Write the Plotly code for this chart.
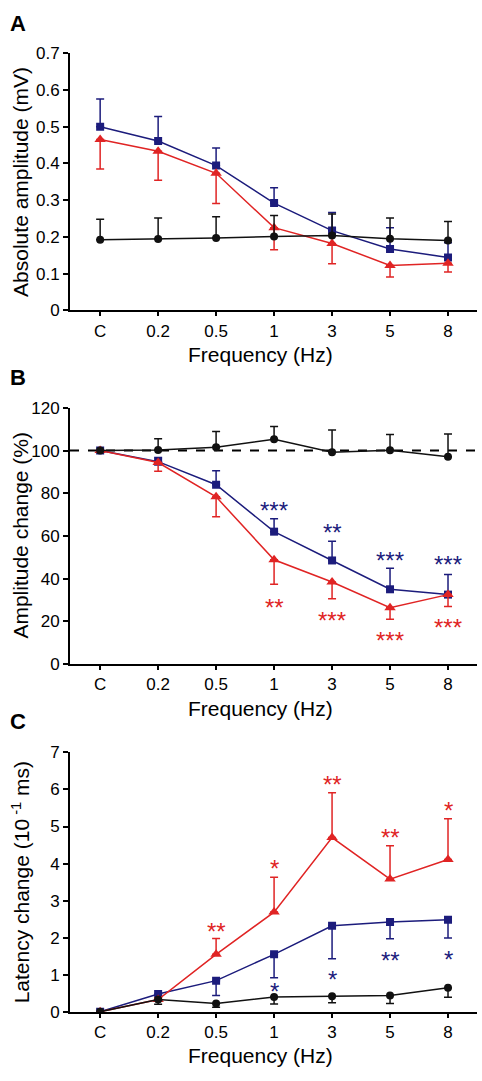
import plotly.graph_objects as go

W, H = 482, 1081
ML, MR = 70, 5
PW = W - ML - MR

freq_labels = ["C", "0.2", "0.5", "1", "3", "5", "8"]
xi = list(range(len(freq_labels)))

# Panel A: absolute amplitude (mV)
a_blue = [0.500, 0.461, 0.394, 0.292, 0.217, 0.167, 0.144]
a_blue_err = [0.075, 0.067, 0.048, 0.042, 0.049, 0.058, 0.040]
a_red = [0.465, 0.433, 0.373, 0.225, 0.182, 0.122, 0.128]
a_red_err = [0.080, 0.079, 0.082, 0.060, 0.055, 0.031, 0.024]
a_black = [0.192, 0.194, 0.197, 0.201, 0.204, 0.195, 0.190]
a_black_err = [0.056, 0.057, 0.058, 0.057, 0.058, 0.056, 0.052]

# Panel B: amplitude change (%)
b_blue = [100, 94.8, 84.0, 62.0, 48.5, 35.0, 32.5]
b_blue_err = [0, 2.0, 6.5, 6.1, 9.0, 9.9, 9.4]
b_red = [100, 94.4, 78.3, 48.8, 38.4, 26.4, 32.5]
b_red_err = [0, 4.1, 9.3, 11.5, 7.8, 5.4, 5.6]
b_black = [100, 100.3, 101.5, 105.3, 99.2, 100.1, 97.1]
b_black_err = [0, 5.2, 7.4, 6.0, 10.4, 7.4, 10.7]

# Panel C: latency change (10^-1 ms)
c_blue = [0, 0.48, 0.84, 1.55, 2.32, 2.42, 2.48]
c_blue_err = [0, 0.03, 0.40, 0.63, 0.89, 0.45, 0.49]
c_red = [0, 0.33, 1.55, 2.69, 4.70, 3.58, 4.11]
c_red_err = [0, 0.05, 0.43, 0.94, 1.21, 0.90, 1.10]
c_black = [0, 0.33, 0.22, 0.40, 0.42, 0.44, 0.65]
c_black_err = [0, 0.13, 0.10, 0.19, 0.18, 0.22, 0.26]

# significance labels (category index, y value, text)
b_blue_sig_x = [3, 4, 5, 6]
b_blue_sig_y = [74.8, 64.4, 51.4, 49.5]
b_blue_sig_t = ["***", "**", "***", "***"]
b_red_sig_x = [3, 4, 5, 6]
b_red_sig_y = [29.5, 23.3, 13.8, 19.7]
b_red_sig_t = ["**", "***", "***", "***"]
c_red_sig_x = [2, 3, 4, 5, 6]
c_red_sig_y = [2.33, 4.02, 6.29, 4.86, 5.59]
c_red_sig_t = ["**", "*", "**", "**", "*"]
c_blue_sig_x = [3, 4, 5, 6]
c_blue_sig_y = [0.71, 1.03, 1.55, 1.56]
c_blue_sig_t = ["*", "*", "**", "*"]

BLUE = "#1c1c7c"
RED = "#e02424"
BLACK = "#111111"
FONT = "Liberation Sans, Arial, sans-serif"


def py(p):
    return 1 - p / H


def px(p):
    return (p - ML) / PW


fig = go.Figure()


def add_series(xa, ya, y, err, color, symbol, size, up):
    zeros = [0] * len(err)
    fig.add_trace(go.Scatter(
        x=xi, y=y, xaxis=xa, yaxis=ya, mode="lines+markers",
        line=dict(color=color, width=1.5),
        marker=dict(color=color, symbol=symbol, size=size),
        error_y=dict(type="data", symmetric=False,
                     array=err if up else zeros,
                     arrayminus=zeros if up else err,
                     color=color, thickness=1.5, width=4),
        showlegend=False, hoverinfo="skip"))


# Panel A
add_series("x", "y", a_blue, a_blue_err, BLUE, "square", 8, True)
add_series("x", "y", a_red, a_red_err, RED, "triangle-up", 10, False)
add_series("x", "y", a_black, a_black_err, BLACK, "circle", 8, True)
# Panel B
add_series("x2", "y2", b_blue, b_blue_err, BLUE, "square", 8, True)
add_series("x2", "y2", b_red, b_red_err, RED, "triangle-up", 10, False)
add_series("x2", "y2", b_black, b_black_err, BLACK, "circle", 8, True)
# Panel C
add_series("x3", "y3", c_blue, c_blue_err, BLUE, "square", 8, False)
add_series("x3", "y3", c_red, c_red_err, RED, "triangle-up", 10, True)
add_series("x3", "y3", c_black, c_black_err, BLACK, "circle", 8, False)

domains = {
    "": (py(306.7), py(45)),
    "2": (py(666.7), py(406)),
    "3": (py(1020.7), py(756.7)),
}
yranges = {"": [0, 0.7], "2": [0, 120], "3": [0, 7]}
ytickv = {
    "": [0, 0.1, 0.2, 0.3, 0.4, 0.5, 0.6, 0.7],
    "2": [0, 20, 40, 60, 80, 100, 120],
    "3": [0, 1, 2, 3, 4, 5, 6, 7],
}
ytickt = {
    "": ["0", "0.1", "0.2", "0.3", "0.4", "0.5", "0.6", "0.7"],
    "2": ["0", "20", "40", "60", "80", "100", "120"],
    "3": ["0", "1", "2", "3", "4", "5", "6", "7"],
}

layout = dict(
    width=W, height=H,
    margin=dict(l=ML, r=MR, t=0, b=0),
    paper_bgcolor="white", plot_bgcolor="white",
    font=dict(family=FONT, color="black", size=17),
    showlegend=False,
)
for ax in ["", "2", "3"]:
    layout["xaxis" + ax] = dict(
        domain=[0, 1], range=[-0.52, 6.5],
        tickvals=xi, ticktext=freq_labels,
        showline=True, linecolor="black", linewidth=2,
        ticks="outside", ticklen=4, tickwidth=1.5, tickcolor="black",
        showgrid=False, zeroline=False,
        tickfont=dict(size=17, family=FONT, color="black"),
        anchor="y" + ax, fixedrange=True,
    )
    layout["yaxis" + ax] = dict(
        domain=list(domains[ax]), range=yranges[ax],
        tickvals=ytickv[ax], ticktext=ytickt[ax],
        showline=True, linecolor="black", linewidth=2,
        ticks="outside", ticklen=5, tickwidth=1.5, tickcolor="black",
        showgrid=False, zeroline=False,
        tickfont=dict(size=17, family=FONT, color="black"),
        anchor="x" + ax, fixedrange=True,
    )
fig.update_layout(**layout)

# dashed reference line at 100 % in panel B
fig.add_shape(type="line", xref="x2 domain", yref="y2", x0=0, x1=1,
              y0=100, y1=100, line=dict(color="black", width=2, dash="dash"),
              layer="below")

ann = []
# significance stars
for xs, ys, ts, color, axn in [
    (b_blue_sig_x, b_blue_sig_y, b_blue_sig_t, BLUE, "2"),
    (b_red_sig_x, b_red_sig_y, b_red_sig_t, RED, "2"),
    (c_red_sig_x, c_red_sig_y, c_red_sig_t, RED, "3"),
    (c_blue_sig_x, c_blue_sig_y, c_blue_sig_t, BLUE, "3"),
]:
    for x, y, t in zip(xs, ys, ts):
        ann.append(dict(x=x, y=y, xref="x" + axn, yref="y" + axn, text=t,
                        showarrow=False, xanchor="center", yanchor="middle",
                        yshift=-6,
                        font=dict(size=24, color=color, family=FONT)))

# x axis titles
for yc in [351.7, 711.7, 1065]:
    ann.append(dict(x=px(260), y=py(yc), xref="paper", yref="paper",
                    text="Frequency (Hz)", showarrow=False,
                    xanchor="center", yanchor="middle",
                    font=dict(size=21, family=FONT, color="black")))
# y axis titles
for yc, t in [(176, "Absolute amplitude (mV)"),
              (536, "Amplitude change (%)"),
              (889, "Latency change (10<sup> -1</sup> ms)")]:
    ann.append(dict(x=px(21), y=py(yc), xref="paper", yref="paper",
                    text=t, textangle=-90, showarrow=False,
                    xanchor="center", yanchor="middle",
                    font=dict(size=21, family=FONT, color="black")))
# panel labels
for yc, t in [(14.5, "A"), (375, "B"), (725, "C")]:
    ann.append(dict(x=px(8), y=py(yc), xref="paper", yref="paper",
                    text="<b>" + t + "</b>", showarrow=False,
                    xanchor="left", yanchor="middle",
                    font=dict(size=22, family=FONT, color="black")))
fig.update_layout(annotations=ann)

fig.write_html(
    "out.html",
    config={"displayModeBar": False},
    post_script="document.body.style.margin='0';document.body.style.overflow='hidden';",
)
